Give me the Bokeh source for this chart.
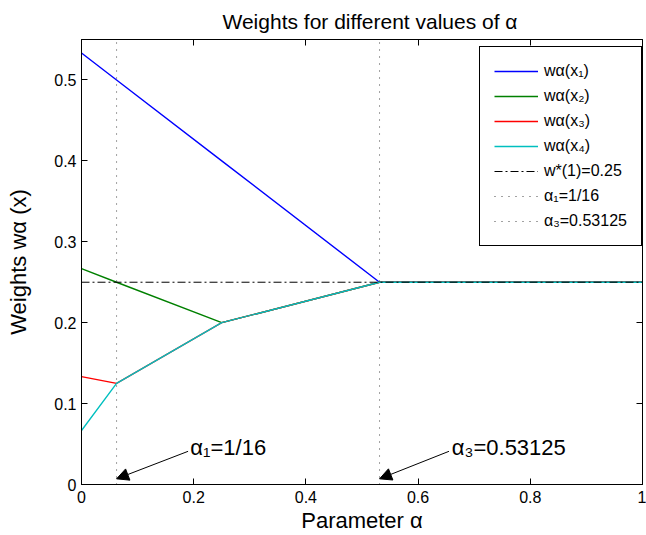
from bokeh.plotting import figure
from bokeh.models import (Arrow, NormalHead, LinearAxis, FixedTicker, Label,
                          CustomJSTickFormatter)
from bokeh.embed import file_html
from bokeh.resources import INLINE

# ---- data ----
alpha = [0.0, 0.0625, 0.25, 0.53125, 1.0]
w1 = [0.5333, 0.5, 0.4, 0.25, 0.25]
w2 = [0.2667, 0.25, 0.2, 0.25, 0.25]
w3 = [0.1333, 0.125, 0.2, 0.25, 0.25]
w4 = [0.0667, 0.125, 0.2, 0.25, 0.25]
w_star = 0.25
alpha1 = 0.0625
alpha3 = 0.53125
x_ticks = [0, 0.2, 0.4, 0.6, 0.8, 1]
y_ticks = [0, 0.1, 0.2, 0.3, 0.4, 0.5]
series_labels = ["wα(x₁)", "wα(x₂)", "wα(x₃)", "wα(x₄)"]
series_colors = ["#0000ff", "#008000", "#ff0000", "#00bfbf"]

FONT = "Liberation Sans"

p = figure(width=646, height=535, x_range=(0, 1), y_range=(0, 0.55),
           output_backend="svg", toolbar_location=None,
           min_border_left=81, min_border_right=4, min_border_top=39,
           min_border_bottom=50)

p.title.text = "Weights for different values of α"
p.title.text_font = FONT
p.title.text_font_size = "21px"
p.title.text_font_style = "normal"
p.title.text_color = "black"
p.title.align = "left"
p.title.offset = 141
p.title.standoff = 14

p.xgrid.visible = False
p.ygrid.visible = False
p.outline_line_color = "black"
p.outline_line_width = 1

fmt = CustomJSTickFormatter(code="""
return (Math.abs(tick - Math.round(tick)) < 1e-9) ? tick.toFixed(0) : tick.toFixed(1);
""")
blank = CustomJSTickFormatter(code="return '';")

def style_axis(ax, ticks, show_labels=True):
    ax.ticker = FixedTicker(ticks=ticks)
    ax.formatter = fmt if show_labels else blank
    ax.major_tick_in = 6
    ax.major_tick_out = 0
    ax.minor_tick_line_color = None
    ax.axis_line_color = "black"
    ax.major_tick_line_color = "black"
    ax.major_label_text_font = FONT
    ax.major_label_text_font_size = "16px"
    ax.major_label_text_color = "black"
    ax.major_label_standoff = 5
    ax.axis_label_text_font = FONT
    ax.axis_label_text_font_style = "normal"
    ax.axis_label_text_font_size = "22px"
    ax.axis_label_text_color = "black"
    if not show_labels:
        ax.major_label_standoff = 0

style_axis(p.xaxis[0], x_ticks)
style_axis(p.yaxis[0], y_ticks)
p.xaxis[0].axis_label = "Parameter α"
p.xaxis[0].axis_label_standoff = 2
p.xaxis[0].major_label_standoff = 6
p.yaxis[0].axis_label = "Weights wα (x)"
p.yaxis[0].axis_label_standoff = 20

top = LinearAxis()
style_axis(top, x_ticks, show_labels=False)
p.add_layout(top, "above")
right = LinearAxis()
style_axis(right, y_ticks, show_labels=False)
p.add_layout(right, "right")

for ys, lab, col in zip([w1, w2, w3, w4], series_labels, series_colors):
    p.line(alpha, ys, line_color=col, line_width=1.4, legend_label=lab)

p.line([0, 1], [w_star, w_star], line_color="black", line_width=1,
       line_dash="8 3 2 3", legend_label="w*(1)=0.25")
p.line([alpha1, alpha1], [0, 0.55], line_color="#444444", line_width=1,
       line_dash="1 6", legend_label="α₁=1/16")
p.line([alpha3, alpha3], [0, 0.55], line_color="#444444", line_width=1,
       line_dash="1 6", legend_label="α₃=0.53125")

# annotations
ann = [("α₁=1/16", alpha1, 0.194, 0.190), ("α₃=0.53125", alpha3, 0.660, 0.655)]
for txt, ax_, tx, sx in ann:
    p.add_layout(Arrow(end=NormalHead(size=12, fill_color="black", line_color="black"),
                       x_start=sx, y_start=0.041, x_end=ax_, y_end=0.007,
                       line_color="black", line_width=1))
    p.add_layout(Label(x=tx, y=0.046, text=txt, text_font=FONT,
                       text_font_size="22px", text_baseline="alphabetic",
                       text_color="black"))

lg = p.legend[0]
lg.location = (398, 238)
lg.margin = 0
lg.padding = 14
lg.spacing = 5
lg.glyph_width = 44
lg.glyph_height = 20
lg.label_height = 20
lg.label_standoff = 6
lg.label_text_font = FONT
lg.label_text_font_size = "16px"
lg.label_text_color = "black"
lg.border_line_color = "black"
lg.border_line_alpha = 1.0
lg.border_line_width = 1.5
lg.background_fill_alpha = 1.0

open("out.html", "w").write(file_html(p, INLINE))
